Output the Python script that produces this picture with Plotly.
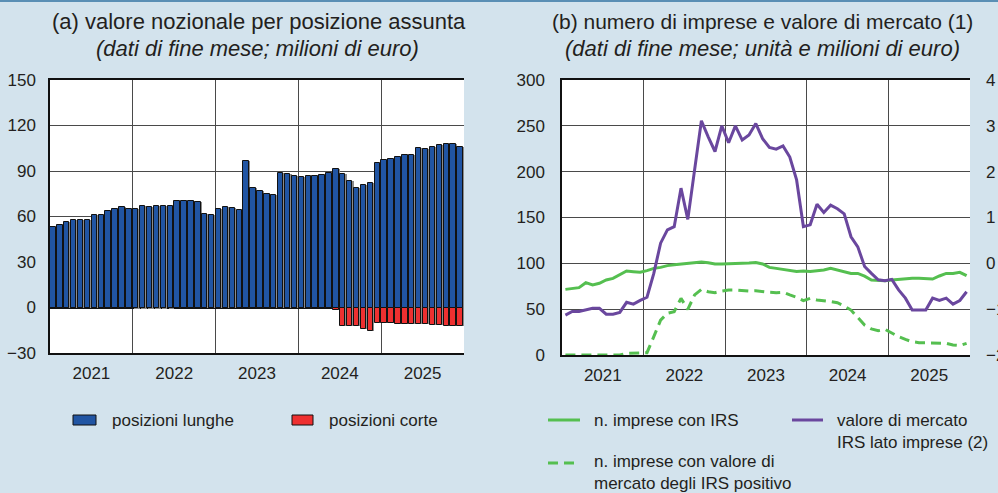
import plotly.graph_objects as go

W, H = 998, 493

years = ["2021", "2022", "2023", "2024", "2025"]
months = list(range(60))

long_pos = [53.2, 54.3, 56.3, 58.0, 57.8, 58.0, 60.7, 60.9, 63.5, 65.0, 66.1, 65.0,
            64.8, 66.8, 66.3, 66.6, 67.2, 67.2, 70.0, 70.5, 70.3, 69.4, 61.5, 61.1,
            65.0, 66.1, 65.3, 64.4, 96.6, 78.8, 76.6, 75.1, 74.0, 88.7, 88.0, 86.9,
            85.8, 86.5, 86.9, 87.4, 88.5, 91.5, 88.0, 83.6, 79.0, 80.6, 82.3, 95.0,
            97.4, 97.7, 99.4, 100.5, 100.5, 104.9, 104.4, 105.8, 107.1, 107.5, 107.7, 105.8]
short_pos = [0, 0, 0, 0, 0, 0, 0, 0, 0, 0, 0, 0,
             -0.5, -0.5, -0.5, -0.5, -0.5, -0.5, 0, 0, 0, 0, 0, 0,
             0, 0, 0, 0, 0, 0, 0, 0, 0, 0, 0, 0,
             0, 0, 0, 0, 0, -1.8, -12.5, -12.5, -12.5, -14.3, -15.4, -10.5,
             -10.3, -10.3, -10.8, -10.8, -10.8, -10.8, -10.8, -11.6, -11.6, -12.5, -12.5, -12.5]

n_irs = [71.6, 72.4, 73.5, 78.9, 76.4, 78.2, 81.8, 83.6, 87.3, 91.6, 90.9, 90.2,
         92.0, 94.5, 95.6, 97.5, 98.5, 99.3, 100.7, 101.5, 101.5, 100.7, 99.3, 99.3,
         99.3, 100.0, 100.0, 100.4, 101.0, 99.3, 95.6, 94.5, 93.5, 92.0, 91.0, 91.6,
         91.0, 92.0, 92.7, 94.5, 92.7, 91.6, 89.0, 89.0, 86.0, 81.8, 81.0, 81.0,
         81.8, 82.5, 83.6, 83.6, 83.6, 83.6, 82.9, 86.2, 89.0, 89.0, 90.2, 86.5]
n_pos = [0, 0, 0, 0, 0, 0, 0, 0, 0, 1.8, 1.8, 1.8,
         2.5, 20.0, 38.0, 45.5, 47.3, 61.8, 49.8, 65.5, 71.6, 69.0, 68.0, 69.8,
         70.9, 70.9, 70.2, 69.8, 70.2, 69.0, 68.4, 68.0, 68.4, 65.5, 63.0, 59.3,
         61.8, 60.0, 59.3, 58.2, 57.0, 53.5, 49.0, 41.0, 32.7, 28.4, 26.5, 28.0,
         23.6, 20.0, 17.0, 14.5, 13.5, 13.5, 13.5, 13.5, 12.7, 10.9, 10.2, 12.7]
mkt_value = [-1.13, -1.05, -1.05, -1.02, -0.98, -0.98, -1.11, -1.11, -1.07, -0.85, -0.89, -0.81,
             -0.74, -0.22, 0.44, 0.73, 0.80, 1.64, 0.96, 2.04, 3.11, 2.76, 2.44, 3.00,
             2.63, 3.00, 2.69, 2.80, 3.05, 2.72, 2.53, 2.49, 2.56, 2.32, 1.82, 0.80,
             0.84, 1.29, 1.11, 1.27, 1.19, 1.08, 0.58, 0.36, -0.07, -0.22, -0.36, -0.38,
             -0.35, -0.58, -0.76, -1.02, -1.02, -1.02, -0.76, -0.81, -0.76, -0.89, -0.81, -0.62]

left_ticks = [-30, 0, 30, 60, 90, 120, 150]
b_left_ticks = [0, 50, 100, 150, 200, 250, 300]
b_right_ticks = [-2, -1, 0, 1, 2, 3, 4]

BG = "#d3e3ed"
BLUE = "#2155a3"
RED = "#ee3030"
GREEN = "#55bf50"
PURPLE = "#6a479e"
TXT = "#231f20"
GRID = "#4a4a4a"
FONT = "Liberation Sans, Arial, sans-serif"

def X(px):
    return px / W

def Y(py):
    return 1 - py / H

year_centers = [12 * i + 5.5 for i in range(len(years))]
year_bounds = [12 * i - 0.5 for i in range(1, len(years))]

fig = go.Figure()

# shadows
fig.add_trace(go.Bar(x=months, y=long_pos, width=0.8, offset=-0.28, marker=dict(color="#8c8c8c", line=dict(width=0)),
                     xaxis="x", yaxis="y", showlegend=False, hoverinfo="skip"))
fig.add_trace(go.Bar(x=months, y=short_pos, width=0.8, offset=-0.28, marker=dict(color="#8c8c8c", line=dict(width=0)),
                     xaxis="x", yaxis="y", showlegend=False, hoverinfo="skip"))
fig.add_trace(go.Bar(x=months, y=long_pos, width=0.78, offset=-0.46, name="posizioni lunghe",
                     marker=dict(color=BLUE, line=dict(color="#111111", width=1)),
                     xaxis="x", yaxis="y", showlegend=False))
fig.add_trace(go.Bar(x=months, y=short_pos, width=0.78, offset=-0.46, name="posizioni corte",
                     marker=dict(color=RED, line=dict(color="#111111", width=1)),
                     xaxis="x", yaxis="y", showlegend=False))

fig.add_trace(go.Scatter(x=months, y=n_irs, mode="lines", line=dict(color=GREEN, width=3),
                         xaxis="x2", yaxis="y3", showlegend=False, name="n. imprese con IRS"))
fig.add_trace(go.Scatter(x=months, y=n_pos, mode="lines", line=dict(color=GREEN, width=3, dash="10px,6px"),
                         xaxis="x2", yaxis="y3", showlegend=False,
                         name="n. imprese con valore di mercato degli IRS positivo"))
fig.add_trace(go.Scatter(x=months, y=mkt_value, mode="lines", line=dict(color=PURPLE, width=3),
                         xaxis="x2", yaxis="y4", showlegend=False,
                         name="valore di mercato IRS lato imprese (2)"))

tickfont = dict(family=FONT, size=17, color=TXT)

xcommon = dict(range=[-0.5, 59.5], tickmode="array", tickvals=year_centers, ticktext=years,
               showgrid=False, zeroline=False, showline=True, linecolor="#111111", linewidth=1.5,
               mirror=True, ticks="", tickfont=tickfont, ticklabelstandoff=4, automargin=False,
               minor=dict(tickvals=year_bounds, showgrid=True, gridcolor=GRID, gridwidth=1.3, ticks=""))

fig.update_layout(
    width=W, height=H, margin=dict(l=0, r=0, t=0, b=0, pad=0, autoexpand=False),
    paper_bgcolor=BG, plot_bgcolor="white", barmode="overlay", bargap=0, showlegend=False,
    xaxis=dict(domain=[X(50), X(464)], anchor="y", **xcommon),
    yaxis=dict(domain=[Y(353), Y(80)], range=[-30, 150], tickvals=left_ticks, showgrid=True,
               gridcolor=GRID, gridwidth=1.3, zeroline=True, zerolinecolor="#111111", zerolinewidth=1.5,
               showline=True, linecolor="#111111", linewidth=1.5, ticks="", tickfont=tickfont,
               ticklabelstandoff=9, anchor="x", automargin=False),
    yaxis2=dict(overlaying="y", side="right", anchor="x", range=[-30, 150], tickvals=left_ticks,
                showgrid=False, zeroline=False, ticks="", tickfont=tickfont, ticklabelstandoff=8,
                automargin=False),
    xaxis2=dict(domain=[X(562), X(970)], anchor="y3", **xcommon),
    yaxis3=dict(domain=[Y(355), Y(80)], range=[0, 300], tickvals=b_left_ticks, showgrid=True,
                gridcolor=GRID, gridwidth=1.3, zeroline=False, showline=True, linecolor="#111111",
                linewidth=1.5, ticks="", tickfont=tickfont, ticklabelstandoff=12, anchor="x2",
                automargin=False),
    yaxis4=dict(overlaying="y3", side="right", anchor="x2", range=[-2, 4], tickvals=b_right_ticks,
                showgrid=False, zeroline=False, ticks="", tickfont=tickfont, ticklabelstandoff=15,
                automargin=False),
)

ann = []
def txt(x, y, s, size=17, italic=False, xanchor="left"):
    ann.append(dict(x=X(x), y=Y(y), xref="paper", yref="paper", text=s, showarrow=False,
                    xanchor=xanchor, yanchor="middle",
                    font=dict(family=FONT, size=size, color=TXT, style="italic" if italic else "normal")))

txt(259, 22, "(a) valore nozionale per posizione assunta", 22, xanchor="center")
txt(257, 48, "(dati di fine mese; milioni di euro)", 22, italic=True, xanchor="center")
txt(762, 22, "(b) numero di imprese e valore di mercato (1)", 21, xanchor="center")
txt(762, 48, "(dati di fine mese; unità e milioni di euro)", 22, italic=True, xanchor="center")

txt(110, 420, "posizioni lunghe")
txt(327, 420, "posizioni corte")
txt(592, 420, "n. imprese con IRS")
txt(835, 420, "valore di mercato")
txt(835, 442, "IRS lato imprese (2)")
txt(592, 461, "n. imprese con valore di")
txt(592, 483, "mercato degli IRS positivo")

shapes = [
    dict(type="rect", xref="paper", yref="paper", x0=X(73), x1=X(96), y0=Y(425), y1=Y(415),
         fillcolor=BLUE, line=dict(color="#111111", width=1)),
    dict(type="rect", xref="paper", yref="paper", x0=X(292), x1=X(313), y0=Y(425), y1=Y(415),
         fillcolor=RED, line=dict(color="#111111", width=1)),
    dict(type="line", xref="paper", yref="paper", x0=X(548), x1=X(580), y0=Y(420), y1=Y(420),
         line=dict(color=GREEN, width=3)),
    dict(type="line", xref="paper", yref="paper", x0=X(792), x1=X(823), y0=Y(420), y1=Y(420),
         line=dict(color=PURPLE, width=3)),
    dict(type="line", xref="paper", yref="paper", x0=X(548), x1=X(580), y0=Y(463), y1=Y(463),
         line=dict(color=GREEN, width=3, dash="10px,6px")),
    dict(type="line", xref="paper", yref="paper", x0=0, x1=1, y0=Y(1), y1=Y(1),
         line=dict(color="#5a8fb5", width=2)),
]
fig.update_layout(annotations=ann, shapes=shapes)

fig.write_html("out.html", config={"displayModeBar": False},
               post_script="document.body.style.margin='0';document.body.style.background='#d3e3ed';")
